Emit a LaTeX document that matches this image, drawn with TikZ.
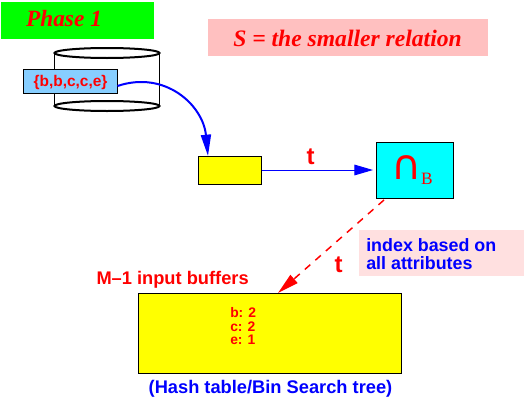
\documentclass[tikz,border=0pt]{standalone}
\usepackage{fontspec}
\setmainfont{Liberation Sans}
\newfontfamily\serifbi{Liberation Serif}[BoldItalicFont=* Bold Italic]
\newfontfamily\seriff{Liberation Serif}
\newfontfamily\symfont{DejaVu Sans}
\usetikzlibrary{arrows.meta}
\definecolor{boxblue}{RGB}{135,206,255}
\definecolor{pinka}{RGB}{255,192,192}
\definecolor{pinkb}{RGB}{255,224,224}
\definecolor{ryellow}{RGB}{255,255,0}
\definecolor{rcyan}{RGB}{0,255,255}
\definecolor{rgreen}{RGB}{0,255,0}
\definecolor{rred}{RGB}{255,0,0}
\definecolor{rblue}{RGB}{0,0,255}
\tikzset{
  px/.style={x=0.75pt,y=-0.75pt},
  fillbox/.style={draw=none,inner sep=0pt,outer sep=0pt,anchor=north west},
  linebox/.style={draw=black,line width=0.75pt,inner sep=0pt,outer sep=0pt,anchor=north west},
  rsans/.style={text=rred,font=\fontsize{11.6pt}{13pt}\selectfont\bfseries,inner sep=0pt},
  bsans/.style={text=rblue,font=\fontsize{13.4pt}{13.5pt}\selectfont\bfseries,inner sep=0pt},
  cyl/.style={black,line width=0.75pt},
  rim/.style={black,line width=1.5pt},
  tipb/.style={-{Triangle[length=16pt,width=7.5pt,fill=rblue]}},
  tipr/.style={-{Triangle[length=16pt,width=8pt,fill=rred]}}
}
\begin{document}
\begin{tikzpicture}[px]
\useasboundingbox (0,0) rectangle (525,400);
\node[fillbox,fill=rgreen,minimum width=153*0.75pt,minimum height=37*0.75pt] (phasebox) at (1,2) {};
\node[text=rred,inner sep=0pt] (phase) at (64,19) {\fontsize{17.5pt}{20pt}\selectfont\serifbi\bfseries\itshape Phase 1};
\node[fillbox,fill=pinka,minimum width=280*0.75pt,minimum height=37*0.75pt] (sbox) at (208,19) {};
\node[text=rred,inner sep=0pt] (slabel) at (347.5,38) {\fontsize{17.7pt}{20pt}\selectfont\serifbi\bfseries\itshape S = the smaller relation};
% cylinder
\draw[cyl] (54.5,53) -- (54.5,106);
\draw[cyl] (159.5,53) -- (159.5,106);
\draw[rim] (107,53) ellipse [x radius=52.5,y radius=5];
\draw[rim] (107,106) ellipse [x radius=52.5,y radius=5];
\node[linebox,fill=boxblue,minimum width=94*0.75pt,minimum height=24*0.75pt] (setbox) at (23.5,69.5) {};
\node[rsans] (setlabel) at (70.5,82) {\{b,b,c,c,e\}};
\node[linebox,fill=ryellow,minimum width=63*0.75pt,minimum height=28*0.75pt] (small) at (198.5,156) {};
\node[linebox,fill=rcyan,minimum width=77*0.75pt,minimum height=56*0.75pt] (sel) at (376.5,142.5) {};
\node[text=rred,inner sep=0pt] (capsign) at (407,168) {\fontsize{31pt}{31pt}\selectfont\symfont ∩};
\node[text=rred,inner sep=0pt] (capb) at (427,179) {\fontsize{13pt}{13pt}\selectfont\seriff B};
\node[linebox,fill=ryellow,minimum width=263*0.75pt,minimum height=80*0.75pt] (big) at (138.5,293.5) {};
\node[fillbox,fill=pinkb,minimum width=165*0.75pt,minimum height=46*0.75pt] (idxbox) at (359,230) {};
\node[bsans,align=left,anchor=west] (idx) at (366,254) {index based on\\all attributes};
\coordinate (a1) at (117.5,86);
\coordinate (a2) at (208,156);
\draw[rblue,line width=1.5pt,tipb] (a1) .. controls (165,70) and (203,105) .. (a2);
\coordinate (b1) at (261.5,170);
\coordinate (b2) at (373,170);
\draw[rblue,line width=0.75pt,-{Triangle[length=14pt,width=8pt,fill=rblue]}] (b1) -- (b2);
\coordinate (d1) at (384,200);
\coordinate (d2) at (278,293);
\draw[rred,line width=1.1pt,dash pattern=on 5.5pt off 5pt,tipr] (d1) -- (d2);
\node[text=rred,inner sep=0pt,font=\fontsize{18pt}{18pt}\selectfont\bfseries] (t1) at (310.5,156.5) {t};
\node[text=rred,inner sep=0pt,font=\fontsize{18pt}{18pt}\selectfont\bfseries] (t2) at (338.5,264.5) {t};
\node[rsans,font=\fontsize{13.7pt}{14pt}\selectfont\bfseries,anchor=east] (mlabel) at (249,280) {M--1 input buffers};
\node[text=rred,inner sep=0pt,align=left,anchor=west,font=\fontsize{10.4pt}{10.1pt}\selectfont\bfseries] (counts) at (230,326.5) {b: 2\\c: 2\\e: 1};
\node[text=rblue,inner sep=0pt,font=\fontsize{13.7pt}{14pt}\selectfont\bfseries] (hash) at (270.5,389) {(Hash table/Bin Search tree)};
\end{tikzpicture}
\end{document}
